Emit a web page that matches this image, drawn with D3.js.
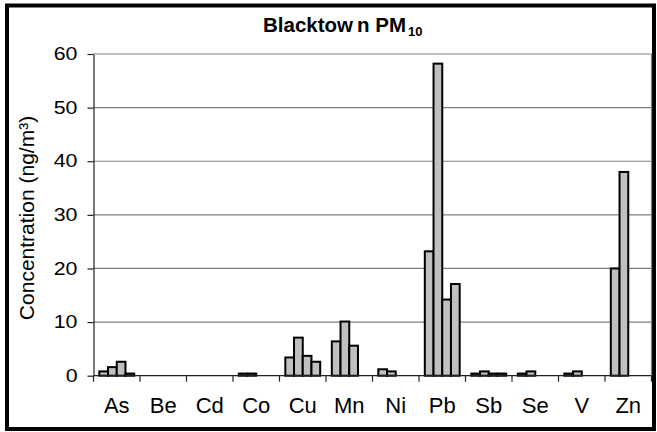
<!DOCTYPE html>
<html><head><meta charset="utf-8">
<script src="https://cdn.jsdelivr.net/npm/d3@7"></script>
<style>
html,body{margin:0;padding:0;background:#fff;}
svg{display:block;font-family:"Liberation Sans",Arial,sans-serif;}
</style></head>
<body><svg id="c" width="657" height="432"></svg>
<script>
const categories = ["As","Be","Cd","Co","Cu","Mn","Ni","Pb","Sb","Se","V","Zn"];
const series1 = [0.8, 0, 0, 0.4, 3.4, 6.4, 1.2, 23.2, 0.4, 0.4, 0.4, 20];
const series2 = [1.6, 0, 0, 0.4, 7.1, 10.1, 0.8, 58.2, 0.8, 0.8, 0.8, 38];
const series3 = [2.6, 0, 0, 0, 3.7, 5.6, 0, 14.2, 0.4, 0, 0, 0];
const series4 = [0.4, 0, 0, 0, 2.6, 0, 0, 17.1, 0.4, 0, 0, 0];
const yTicks = [0, 10, 20, 30, 40, 50, 60];
const seriesNames = ["s1","s2","s3","s4"];
const allSeries = [series1, series2, series3, series4];

const svg = d3.select("#c");
const mLeft = 93.5, mRight = 651.5, mTop = 54, mBottom = 375.7;

const x = d3.scaleBand().domain(categories).range([mLeft, mRight]).padding(0);
const xs = d3.scaleBand().domain(seriesNames)
  .range([x.bandwidth()*0.125, x.bandwidth()*0.875]).padding(0);
const y = d3.scaleLinear().domain([0, 60]).range([mBottom, mTop]);

// outer border
svg.append("rect").attr("x", 7).attr("y", 5.5).attr("width", 647).attr("height", 423.5)
  .attr("fill", "none").attr("stroke", "#000").attr("stroke-width", 4);

// gridlines
svg.append("g").selectAll("line").data(yTicks.filter(d => d > 0)).join("line")
  .attr("x1", mLeft).attr("x2", mRight)
  .attr("y1", d => y(d)).attr("y2", d => y(d))
  .attr("stroke", "#808080").attr("stroke-width", 1.2);
// right plot border
svg.append("line").attr("x1", mRight).attr("x2", mRight).attr("y1", mTop).attr("y2", mBottom)
  .attr("stroke", "#808080").attr("stroke-width", 1.2);

// bars
const data = [];
categories.forEach((c, i) => {
  allSeries.forEach((s, j) => {
    if (s[i] > 0) data.push({c, s: seriesNames[j], v: s[i]});
  });
});
svg.append("g").selectAll("rect").data(data).join("rect")
  .attr("x", d => x(d.c) + xs(d.s))
  .attr("y", d => y(d.v))
  .attr("width", xs.bandwidth())
  .attr("height", d => y(0) - y(d.v))
  .attr("fill", "#c0c0c0").attr("stroke", "#000").attr("stroke-width", 2);

// y axis
const yAxis = svg.append("g").attr("transform", `translate(${mLeft},0)`)
  .call(d3.axisLeft(y).tickValues(yTicks).tickSize(6).tickPadding(10).tickSizeOuter(0));
yAxis.select(".domain").attr("stroke", "#222").attr("stroke-width", 1.2);
yAxis.selectAll(".tick line").attr("stroke", "#222").attr("stroke-width", 1.2);
yAxis.selectAll(".tick text").attr("font-size", 17.5).attr("fill", "#000")
  .attr("font-family", "Liberation Sans, Arial, sans-serif")
  .attr("x", -16 / 1.22).attr("transform", "scale(1.22,1)");

// x axis
const xg = svg.append("g").attr("transform", `translate(0,${mBottom})`);
xg.append("line").attr("x1", mLeft).attr("x2", mRight).attr("stroke", "#222").attr("stroke-width", 1.2);
const boundaries = categories.map(c => x(c)).concat([x(categories[categories.length-1]) + x.bandwidth()]);
xg.selectAll("line.tk").data(boundaries).join("line").attr("class", "tk")
  .attr("x1", d => d).attr("x2", d => d).attr("y1", 0).attr("y2", 6)
  .attr("stroke", "#222").attr("stroke-width", 1.2);
xg.selectAll("text").data(categories).join("text")
  .attr("x", d => x(d) + x.bandwidth()/2).attr("y", 37.5)
  .attr("text-anchor", "middle").attr("font-size", 22).attr("fill", "#000")
  .text(d => d);

// y title
svg.append("text").attr("transform", "translate(34,218) rotate(-90)")
  .attr("text-anchor", "middle").attr("font-size", 21).attr("fill", "#000")
  .text("Concentration (ng/m³)");

// title
const t = svg.append("text").attr("x", 263).attr("y", 32.3)
  .attr("font-size", 20.5).attr("font-weight", "bold").attr("fill", "#000");
t.append("tspan").text("Blacktow");
t.append("tspan").attr("dx", 4).text("n PM");
t.append("tspan").attr("font-size", 13).attr("dy", 4).attr("dx", 2).text("10");
</script></body></html>
